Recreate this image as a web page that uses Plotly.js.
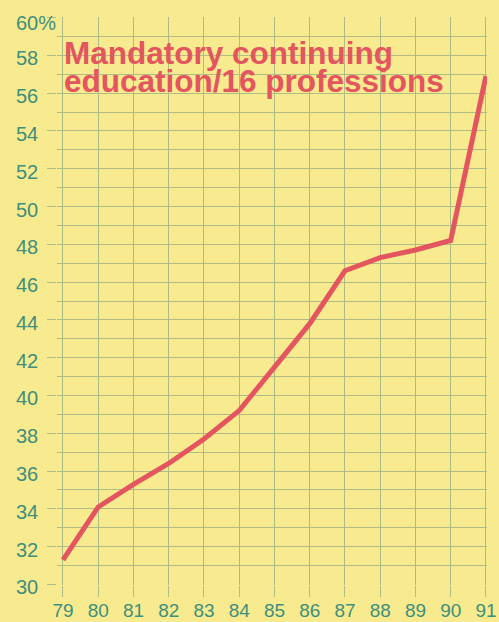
<!DOCTYPE html>
<html>
<head>
<meta charset="utf-8">
<script src="https://cdn.plot.ly/plotly-3.0.1.min.js"></script>
<style>
html,body{margin:0;padding:0;background:#f7e98e;}
#chart{width:499px;height:622px;}
</style>
</head>
<body>
<div id="chart"></div>
<script>
// Data
const years = [79, 80, 81, 82, 83, 84, 85, 86, 87, 88, 89, 90, 91];
const share = [31.3, 34.1, 35.3, 36.4, 37.7, 39.2, 41.5, 43.8, 46.6, 47.3, 47.7, 48.2, 56.9];
const xTickText = ["79", "80", "81", "82", "83", "84", "85", "86", "87", "88", "89", "90", "91"];
const yTickVals = [30, 32, 34, 36, 38, 40, 42, 44, 46, 48, 50, 52, 54, 56, 58, 60];
const yTickText = ["30", "32", "34", "36", "38", "40", "42", "44", "46", "48", "50", "52", "54", "56", "58", "60%"];
const titleLines = ["Mandatory continuing", "education/16 professions"];

const teal = '#3f8f7c';
const grid = '#b0bc86';
const red = '#e3555f';
const bg = '#f8ea8e';

const annotations = [];
yTickVals.forEach((v, i) => {
  annotations.push({
    xref: 'paper', yref: 'y', x: -0.1, y: v, xanchor: 'left', yanchor: 'middle',
    text: yTickText[i], showarrow: false, yshift: (v === 60 ? -5 : -3),
    font: {family: 'Liberation Sans, Arial, sans-serif', size: 20, color: teal}
  });
});
const titleY = [0.937, 0.888];
titleLines.forEach((t, i) => {
  annotations.push({
    xref: 'paper', yref: 'paper', x: 0.012, y: titleY[i], xanchor: 'left', yanchor: 'middle',
    text: '<b>' + t + '</b>', showarrow: false,
    font: {family: 'Liberation Sans, Arial, sans-serif', size: 31.5, color: red}
  });
});

const trace = {
  x: years, y: share, type: 'scatter', mode: 'lines',
  line: {color: red, width: 5},
  hoverinfo: 'skip'
};

const layout = {
  width: 499, height: 622,
  margin: {l: 57, r: 12, t: 17, b: 37, pad: 0},
  paper_bgcolor: bg, plot_bgcolor: bg,
  showlegend: false,
  xaxis: {
    range: [78.83, 91.03],
    tickvals: years, ticktext: xTickText,
    ticks: 'outside', ticklen: 11, tickwidth: 1, tickcolor: grid,
    ticklabelstandoff: -3,
    showgrid: true, gridcolor: grid, gridwidth: 1,
    zeroline: false, showline: false,
    tickfont: {family: 'Liberation Sans, Arial, sans-serif', size: 19, color: teal}
  },
  yaxis: {
    range: [29.97, 60.03],
    tickvals: yTickVals,
    ticks: 'outside', ticklen: 9, tickwidth: 1, tickcolor: grid,
    showticklabels: false,
    showgrid: true, gridcolor: grid, gridwidth: 1,
    zeroline: false, showline: false,
    minor: {dtick: 1, tick0: 30, showgrid: true, gridcolor: grid, gridwidth: 1, ticks: ''}
  },
  annotations: annotations
};

Plotly.newPlot('chart', [trace], layout, {displayModeBar: false, staticPlot: true});
</script>
</body>
</html>
